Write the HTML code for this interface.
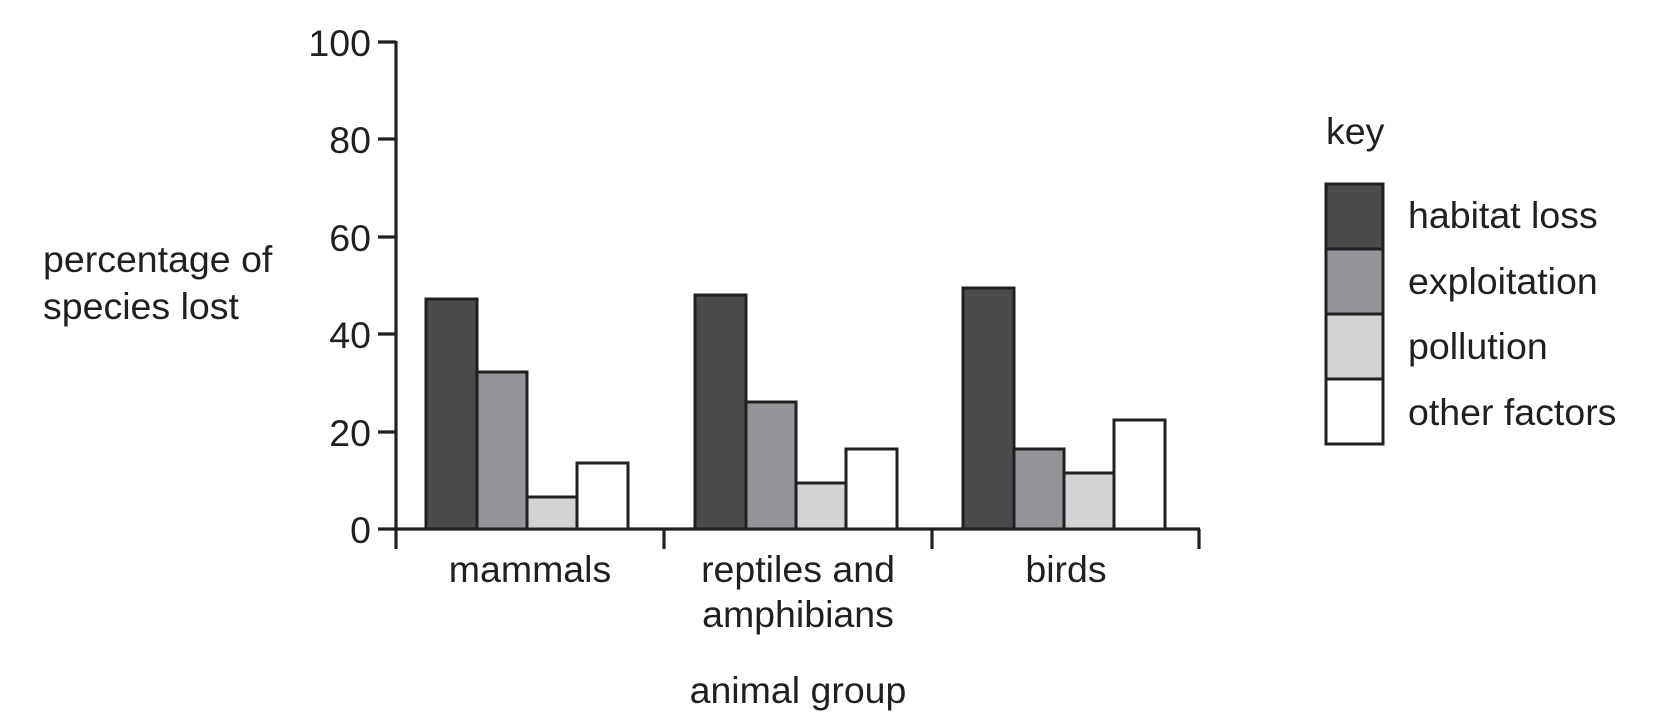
<!DOCTYPE html>
<html><head><style>
html,body{margin:0;padding:0;background:#fff;}
svg{display:block;}
text{font-family:"Liberation Sans",Arial,sans-serif;fill:#231f20;font-size:37.5px;}
</style></head><body>
<svg width="1663" height="715" viewBox="0 0 1663 715">
<g stroke="#231f20" stroke-width="3.2" fill="none">
<line x1="396" y1="41" x2="396" y2="549"/>
<line x1="378" y1="529" x2="1200" y2="529"/>
<line x1="378" y1="42" x2="396" y2="42"/>
<line x1="378" y1="139" x2="396" y2="139"/>
<line x1="378" y1="237" x2="396" y2="237"/>
<line x1="378" y1="334" x2="396" y2="334"/>
<line x1="378" y1="432" x2="396" y2="432"/>
<line x1="664" y1="529" x2="664" y2="549"/>
<line x1="932" y1="529" x2="932" y2="549"/>
<line x1="1199" y1="529" x2="1199" y2="549"/>
</g>
<g stroke="#231f20" stroke-width="3">
<rect x="426" y="299" width="51" height="230" fill="#4a4b4d"/>
<rect x="477" y="372" width="50" height="157" fill="#939497"/>
<rect x="527" y="497" width="50" height="32" fill="#d2d3d5"/>
<rect x="577" y="463" width="51" height="66" fill="#fff"/>
<rect x="695" y="295" width="51" height="234" fill="#4a4b4d"/>
<rect x="746" y="402" width="50" height="127" fill="#939497"/>
<rect x="796" y="483" width="50" height="46" fill="#d2d3d5"/>
<rect x="846" y="449" width="51" height="80" fill="#fff"/>
<rect x="963" y="288" width="51" height="241" fill="#4a4b4d"/>
<rect x="1014" y="449" width="50" height="80" fill="#939497"/>
<rect x="1064" y="473" width="50" height="56" fill="#d2d3d5"/>
<rect x="1114" y="420" width="51" height="109" fill="#fff"/>
<rect x="1326" y="184" width="57" height="65" fill="#4a4b4d"/>
<rect x="1326" y="249" width="57" height="65" fill="#939497"/>
<rect x="1326" y="314" width="57" height="65" fill="#d2d3d5"/>
<rect x="1326" y="379" width="57" height="65" fill="#fff"/>
</g>
<g text-anchor="end" style="font-size:38.5px">
<text x="371" y="56">100</text>
<text x="371" y="153">80</text>
<text x="371" y="251">60</text>
<text x="371" y="348">40</text>
<text x="371" y="446">20</text>
<text x="371" y="543">0</text>
</g>
<text x="43" y="272">percentage of</text>
<text x="43" y="319">species lost</text>
<g text-anchor="middle">
<text x="530" y="582">mammals</text>
<text x="798" y="582">reptiles and</text>
<text x="798" y="627">amphibians</text>
<text x="1066" y="582">birds</text>
<text x="798" y="703">animal group</text>
</g>
<text x="1326" y="144">key</text>
<text x="1408" y="228">habitat loss</text>
<text x="1408" y="294">exploitation</text>
<text x="1408" y="359">pollution</text>
<text x="1408" y="425">other factors</text>
</svg>
</body></html>
